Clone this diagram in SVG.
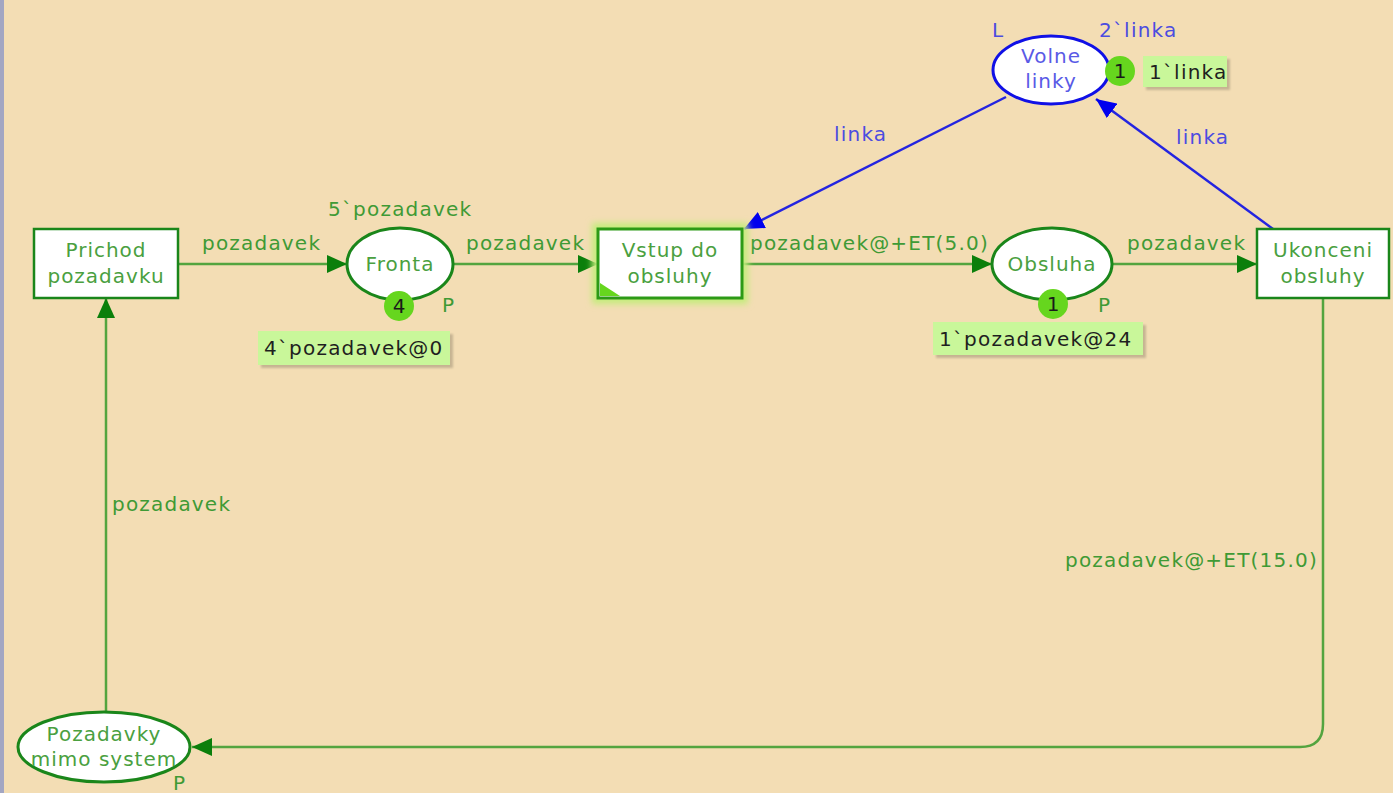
<svg xmlns="http://www.w3.org/2000/svg" width="1393" height="793" viewBox="0 0 1393 793">
  <style>
    text { font-family: "DejaVu Sans", Verdana, sans-serif; font-size: 20px; letter-spacing: 1.2px; }
    .gt { fill: #3f9a35; }
    .nt { fill: #4aa040; text-anchor: middle; font-size: 20px; letter-spacing: 1px; }
    .bt { fill: #4c4ce0; }
    .bnt { fill: #5a5ae6; text-anchor: middle; font-size: 20px; letter-spacing: 1px; }
    .tr { fill: #ffffff; stroke: #1a861a; stroke-width: 2.5; }
    .pl { fill: #ffffff; stroke: #1a861a; stroke-width: 3; }
    .arc { fill: none; stroke: #53a43f; stroke-width: 2.5; }
    .arcb { fill: none; stroke: #2424e0; stroke-width: 2.5; }
    .tok { fill: #66d61e; }
    .tokt { fill: #1a1a1a; text-anchor: middle; font-size: 20px; letter-spacing: 0; }
    .mark { fill: #c9f79a; }
    .markt { fill: #1f1f1f; font-size: 20px; letter-spacing: 1.2px; }
    .shadow { fill: #000000; opacity: 0.18; }
  </style>
  <defs>
    <marker id="ag" markerUnits="userSpaceOnUse" markerWidth="22" markerHeight="18" refX="20" refY="9" orient="auto">
      <path d="M0,0 L20,9 L0,18 Z" fill="#0b7f0b"/>
    </marker>
    <marker id="ab" markerUnits="userSpaceOnUse" markerWidth="22" markerHeight="18" refX="20" refY="9" orient="auto">
      <path d="M0,0 L20,9 L0,18 Z" fill="#0000ee"/>
    </marker>
    <filter id="glow" x="-20%" y="-20%" width="140%" height="140%">
      <feGaussianBlur stdDeviation="3"/>
    </filter>
    <filter id="soft" x="-10%" y="-20%" width="120%" height="140%">
      <feGaussianBlur stdDeviation="1.2"/>
    </filter>
  </defs>

  <!-- canvas -->
  <rect x="0" y="0" width="1393" height="793" fill="#f3ddb4"/>
  <rect x="0" y="0" width="4" height="793" fill="#a3a6c2"/>

  <!-- connectors -->
  <g id="arcs">
    <line class="arc" x1="178" y1="264" x2="347" y2="264" marker-end="url(#ag)"/>
    <text class="gt" x="202" y="250">pozadavek</text>

    <line class="arc" x1="453" y1="264" x2="598" y2="264" marker-end="url(#ag)"/>
    <text class="gt" x="466" y="250">pozadavek</text>

    <line class="arc" x1="742" y1="264" x2="992" y2="264" marker-end="url(#ag)"/>
    <text class="gt" x="750" y="250">pozadavek@+ET(5.0)</text>

    <line class="arc" x1="1113" y1="264" x2="1257" y2="264" marker-end="url(#ag)"/>
    <text class="gt" x="1127" y="250">pozadavek</text>

    <line class="arcb" x1="1273" y1="229" x2="1096" y2="99" marker-end="url(#ab)"/>
    <text class="bt" x="1176" y="144">linka</text>

    <line class="arcb" x1="1006" y1="97" x2="744" y2="229" marker-end="url(#ab)"/>
    <text class="bt" x="834" y="141">linka</text>

    <path class="arc" d="M1323,298 L1323,724 Q1323,747 1300,747 L192,747" marker-end="url(#ag)"/>
    <text class="gt" x="1065" y="567">pozadavek@+ET(15.0)</text>

    <line class="arc" x1="106" y1="712" x2="106" y2="298" marker-end="url(#ag)"/>
    <text class="gt" x="112" y="511">pozadavek</text>
  </g>

  <!-- transition: Prichod pozadavku -->
  <g id="prichod-pozadavku">
    <rect class="tr" x="34" y="229" width="144" height="69"/>
    <text class="nt" x="106" y="257">Prichod</text>
    <text class="nt" x="106" y="283">pozadavku</text>
  </g>

  <!-- place: Fronta -->
  <g id="fronta">
    <ellipse class="pl" cx="400" cy="264" rx="53" ry="36"/>
    <text class="nt" x="400" y="271">Fronta</text>
    <text class="gt" x="328" y="216">5`pozadavek</text>
    <text class="gt" x="442" y="312">P</text>
    <circle class="tok" cx="399" cy="306" r="15"/>
    <text class="tokt" x="399" y="313">4</text>
    <rect class="shadow" x="261" y="334" width="192" height="34" filter="url(#soft)"/>
    <rect class="mark" x="258" y="331" width="192" height="34"/>
    <text class="markt" x="264" y="355">4`pozadavek@0</text>
  </g>

  <!-- transition: Vstup do obsluhy (enabled) -->
  <g id="vstup-do-obsluhy">
    <rect x="592" y="223" width="156" height="81" fill="#c4ec7c" filter="url(#glow)"/>
    <rect x="598" y="229" width="144" height="69" fill="#ffffff" stroke="#2c9a16" stroke-width="3"/>
    <path d="M600,283 L600,296 L620,296 Z" fill="#66d61e"/>
    <text class="nt" x="670" y="257">Vstup do</text>
    <text class="nt" x="670" y="283">obsluhy</text>
  </g>

  <!-- place: Obsluha -->
  <g id="obsluha">
    <ellipse class="pl" cx="1052" cy="264" rx="60" ry="36"/>
    <text class="nt" x="1052" y="271">Obsluha</text>
    <text class="gt" x="1098" y="312">P</text>
    <circle class="tok" cx="1053" cy="304" r="15"/>
    <text class="tokt" x="1053" y="311">1</text>
    <rect class="shadow" x="936" y="325" width="210" height="33" filter="url(#soft)"/>
    <rect class="mark" x="933" y="322" width="210" height="33"/>
    <text class="markt" x="939" y="346">1`pozadavek@24</text>
  </g>

  <!-- transition: Ukonceni obsluhy -->
  <g id="ukonceni-obsluhy">
    <rect class="tr" x="1257" y="229" width="132" height="69"/>
    <text class="nt" x="1323" y="257">Ukonceni</text>
    <text class="nt" x="1323" y="283">obsluhy</text>
  </g>

  <!-- place: Volne linky -->
  <g id="volne-linky">
    <ellipse cx="1051" cy="70" rx="58" ry="34" fill="#ffffff" stroke="#1010e6" stroke-width="3"/>
    <text class="bnt" x="1051" y="63">Volne</text>
    <text class="bnt" x="1051" y="88">linky</text>
    <text class="bt" x="992" y="37">L</text>
    <text class="bt" x="1099" y="37">2`linka</text>
    <circle class="tok" cx="1120" cy="71" r="15"/>
    <text class="tokt" x="1120" y="78">1</text>
    <rect class="shadow" x="1146" y="59" width="84" height="31" filter="url(#soft)"/>
    <rect class="mark" x="1143" y="56" width="84" height="31"/>
    <text class="markt" x="1149" y="79">1`linka</text>
  </g>

  <!-- place: Pozadavky mimo system -->
  <g id="pozadavky-mimo-system">
    <ellipse class="pl" cx="104" cy="747" rx="86" ry="35"/>
    <text class="nt" x="104" y="741">Pozadavky</text>
    <text class="nt" x="104" y="766">mimo system</text>
    <text class="gt" x="173" y="790">P</text>
  </g>
</svg>
